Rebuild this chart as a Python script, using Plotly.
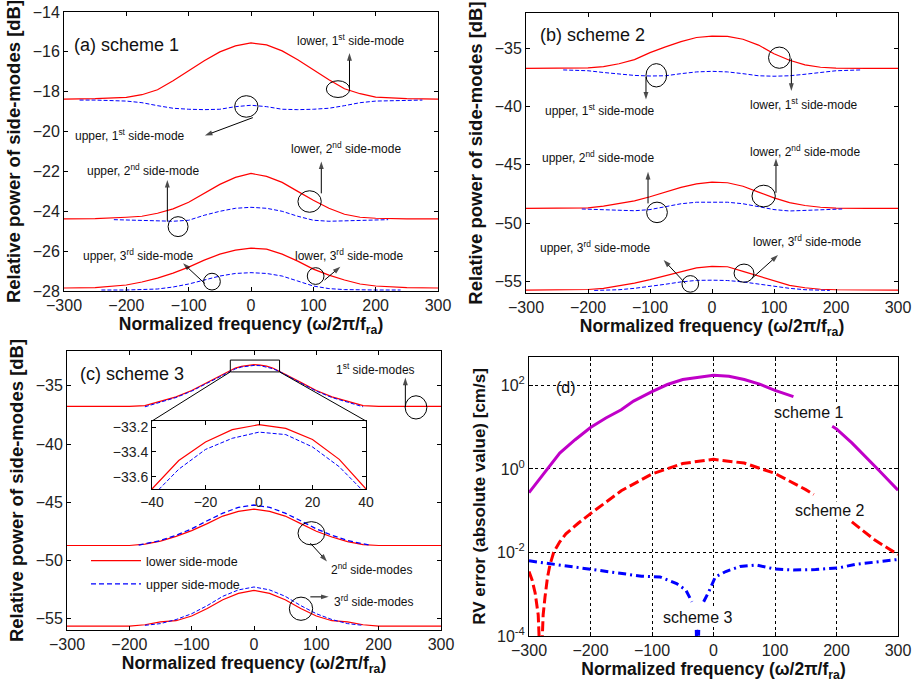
import plotly.graph_objects as go

# ---------------- data: panel (a) scheme 1 ----------------
X21 = [-300, -250, -200, -175, -150, -125, -100, -75, -50, -25, 0, 25, 50, 75, 100, 125, 150, 175, 200, 250, 300]
A_LOWER1 = [-18.37, -18.35, -18.28, -18.15, -17.9, -17.45, -16.95, -16.45, -16.0, -15.7, -15.55, -15.65, -15.95, -16.4, -16.9, -17.4, -17.85, -18.1, -18.27, -18.35, -18.37]
A_LOWER2 = [-24.38, -24.37, -24.3, -24.25, -24.1, -23.88, -23.55, -23.1, -22.65, -22.3, -22.1, -22.25, -22.55, -23.0, -23.45, -23.85, -24.15, -24.3, -24.35, -24.38, -24.38]
A_LOWER3 = [-27.85, -27.83, -27.7, -27.55, -27.35, -27.1, -26.8, -26.45, -26.15, -25.95, -25.85, -25.9, -26.15, -26.5, -26.9, -27.2, -27.45, -27.65, -27.75, -27.83, -27.85]
A_X_UP1 = [-275, -250, -200, -175, -150, -125, -100, -75, -50, -25, 0, 25, 50, 75, 100, 125, 150, 175, 200, 250, 275]
A_UPPER1 = [-18.42, -18.42, -18.47, -18.55, -18.7, -18.83, -18.88, -18.9, -18.88, -18.75, -18.68, -18.75, -18.88, -18.9, -18.88, -18.83, -18.7, -18.55, -18.47, -18.42, -18.42]
A_X_UP2 = [-220, -175, -150, -125, -100, -75, -50, -25, 0, 25, 50, 75, 100, 125, 150, 175, 220]
A_UPPER2 = [-24.42, -24.45, -24.47, -24.5, -24.45, -24.2, -24.0, -23.85, -23.8, -23.85, -24.0, -24.25, -24.45, -24.5, -24.48, -24.45, -24.42]
A_X_UP3 = [-240, -200, -150, -125, -100, -75, -50, -25, 0, 25, 50, 75, 100, 125, 150, 200, 240]
A_UPPER3 = [-27.95, -27.95, -27.9, -27.8, -27.65, -27.45, -27.25, -27.12, -27.08, -27.12, -27.25, -27.5, -27.75, -27.88, -27.93, -27.95, -27.95]

# ---------------- data: panel (b) scheme 2 ----------------
B_LOWER1 = [-36.75, -36.75, -36.7, -36.6, -36.35, -36.0, -35.4, -34.9, -34.45, -34.1, -33.98, -34.0, -34.25, -34.75, -35.5, -36.05, -36.45, -36.65, -36.72, -36.75, -36.75]
B_LOWER2 = [-48.75, -48.75, -48.7, -48.55, -48.35, -48.1, -47.75, -47.35, -46.95, -46.65, -46.5, -46.55, -46.85, -47.35, -47.85, -48.25, -48.5, -48.65, -48.72, -48.75, -48.75]
B_LOWER3 = [-55.75, -55.75, -55.7, -55.6, -55.4, -55.15, -54.85, -54.5, -54.15, -53.85, -53.72, -53.75, -54.15, -54.55, -55.0, -55.35, -55.55, -55.68, -55.72, -55.75, -55.75]
B_X_UP1 = [-240, -200, -175, -150, -125, -100, -75, -50, -25, 0, 25, 50, 75, 100, 125, 150, 175, 200, 240]
B_UPPER1 = [-36.88, -36.95, -37.1, -37.25, -37.35, -37.4, -37.38, -37.2, -37.05, -37.0, -37.05, -37.2, -37.38, -37.42, -37.38, -37.25, -37.1, -36.95, -36.88]
B_X_UP2 = [-210, -175, -150, -125, -100, -75, -50, -25, 0, 25, 50, 75, 100, 125, 150, 175, 210]
B_UPPER2 = [-48.8, -48.85, -48.9, -48.95, -48.85, -48.6, -48.35, -48.22, -48.2, -48.22, -48.35, -48.6, -48.85, -48.97, -48.92, -48.85, -48.8]
B_X_UP3 = [-190, -150, -125, -100, -75, -50, -25, 0, 25, 50, 75, 100, 125, 150, 190]
B_UPPER3 = [-55.78, -55.72, -55.6, -55.45, -55.25, -55.05, -54.92, -54.9, -54.93, -55.05, -55.25, -55.45, -55.6, -55.72, -55.78]

# ---------------- data: panel (c) scheme 3 ----------------
C_X_RED1 = [-300, -200, -175, -150, -125, -100, -75, -50, -40, -30, -20, -10, 0, 10, 20, 30, 40, 50, 75, 100, 125, 150, 175, 200, 300]
C_LOWER1 = [-36.77, -36.77, -36.7, -36.35, -35.95, -35.4, -34.7, -34.0, -33.7, -33.47, -33.32, -33.22, -33.18, -33.21, -33.3, -33.46, -33.7, -34.0, -34.7, -35.4, -35.95, -36.35, -36.7, -36.77, -36.77]
C_X_UP1 = [-175, -150, -125, -100, -75, -50, -40, -30, -20, -10, 0, 10, 20, 30, 40, 50, 75, 100, 125, 150, 175]
C_UPPER1 = [-36.8, -36.4, -36.0, -35.45, -34.75, -34.05, -33.76, -33.54, -33.38, -33.29, -33.24, -33.26, -33.36, -33.52, -33.74, -34.05, -34.75, -35.45, -36.0, -36.4, -36.8]
C_LOWER2 = [-48.73, -48.73, -48.73, -48.62, -48.35, -47.95, -47.45, -46.85, -46.2, -45.8, -45.6, -45.8, -46.2, -46.85, -47.5, -48.0, -48.4, -48.65, -48.73, -48.73, -48.73]
C_X_UP2 = [-185, -150, -125, -100, -75, -50, -25, 0, 25, 50, 75, 100, 125, 150, 185]
C_UPPER2 = [-48.7, -48.3, -47.85, -47.3, -46.6, -45.95, -45.45, -45.25, -45.45, -45.95, -46.6, -47.3, -47.85, -48.3, -48.7]
C_LOWER3 = [-55.66, -55.66, -55.66, -55.55, -55.3, -55.2, -54.8, -54.15, -53.4, -52.85, -52.6, -52.85, -53.4, -54.15, -54.8, -55.2, -55.3, -55.55, -55.66, -55.66, -55.66]
C_X_UP3 = [-175, -150, -125, -100, -75, -50, -25, 0, 25, 50, 75, 100, 125, 150, 175]
C_UPPER3 = [-55.6, -55.45, -55.1, -54.6, -53.9, -53.1, -52.55, -52.3, -52.55, -53.1, -53.9, -54.6, -55.1, -55.45, -55.6]

# ---------------- data: panel (d) RV error (None = gap behind a label) ----------------
D_X_S1 = [-300, -270, -250, -225, -200, -175, -150, -130, -100, -75, -50, 0, 25, 50, 75, 100, 130, 160, 193, 200, 225, 250, 270, 300]
D_S1 = [0.27, 1.0, 2.4, 5.0, 9.8, 16.6, 26, 42, 71, 105, 138, 174, 166, 138, 107, 76, 54, None, 10.5, 9.1, 4.2, 1.8, 0.89, 0.31]
D_X_S2 = [-300, -295, -290, -285, -281, -277, -274, -270, -266, -260, -250, -240, -220, -200, -150, -100, -50, 0, 50, 100, 150, 163, 190, 225, 263, 300]
D_S2 = [3.5e-3, 2.2e-3, 1.07e-3, 3.2e-4, 1e-5, 3.2e-4, 8.5e-4, 2.5e-3, 5.0e-3, 1.0e-2, 1.8e-2, 2.8e-2, 5.0e-2, 8.5e-2, 0.30, 0.76, 1.35, 1.7, 1.38, 0.78, 0.32, 0.245, None, 5.4e-2, 1.95e-2, 8.9e-3]
D_X_S3 = [-300, -258, -200, -150, -117, -87, -60, -45, -35, -31, -28, -26, -24, -21, -16, -8, 3, 20, 43, 70, 100, 130, 166, 204, 231, 263, 300]
D_S3 = [6.3e-3, 5.2e-3, 3.9e-3, 3.2e-3, 2.7e-3, 2.6e-3, 1.8e-3, 1.26e-3, 6.6e-4, None, 1.4e-4, 1e-5, 1.4e-4, None, 6.6e-4, 1.12e-3, 2.6e-3, 3.5e-3, 4.6e-3, 5.0e-3, 4.0e-3, 3.8e-3, 3.9e-3, 4.3e-3, 5.2e-3, 6.0e-3, 6.8e-3]

Y_TICKS_A = [-28, -26, -24, -22, -20, -18, -16, -14]
Y_TICKS_BC = [-55, -50, -45, -40, -35]
X_TICKS = [-300, -200, -100, 0, 100, 200, 300]
D_TICKVALS = [1e-4, 1e-2, 1, 1e2]
D_TICKTEXT = ["10<sup>-4</sup>", "10<sup>-2</sup>", "10<sup>0</sup>", "10<sup>2</sup>"]
INSET_XT = [-40, -20, 0, 20, 40]
INSET_YT = [-33.6, -33.4, -33.2]
LEGEND_NAMES = ["lower side-mode", "upper side-mode"]

FONT = "Liberation Sans, Arial, sans-serif"
RED = "#ff0000"
BLUE = "#0000ff"
MAG = "#c000c8"
W, H = 912, 683

def dom(px0, px1, py0, py1):
    return [px0 / W, px1 / W], [1 - py1 / H, 1 - py0 / H]

AX = {
    1: dom(64, 438, 12, 291),
    2: dom(526, 898, 13, 293),
    3: dom(67, 441, 351, 630),
    4: dom(529, 898, 357, 636),
    5: dom(152, 366, 421, 489),
}

fig = go.Figure()

def sfx(i):
    return "" if i == 1 else str(i)

def add_line(i, x, y, color, width, dash, name=None, legend=False, group=None, rank=None):
    fig.add_trace(go.Scatter(
        x=x, y=y, mode="lines", xaxis="x" + sfx(i), yaxis="y" + sfx(i),
        line=dict(color=color, width=width, dash=dash),
        name=name, showlegend=legend, legendgroup=group, hoverinfo="skip",
        legendrank=rank if rank is not None else 1000, connectgaps=False))

RD = "solid"
BD = "4px,2px"
# panel (a)
add_line(1, X21, A_LOWER1, RED, 1.2, RD)
add_line(1, X21, A_LOWER2, RED, 1.2, RD)
add_line(1, X21, A_LOWER3, RED, 1.2, RD)
add_line(1, A_X_UP1, A_UPPER1, BLUE, 1, BD)
add_line(1, A_X_UP2, A_UPPER2, BLUE, 1, BD)
add_line(1, A_X_UP3, A_UPPER3, BLUE, 1, BD)
# panel (b)
add_line(2, X21, B_LOWER1, RED, 1.2, RD)
add_line(2, X21, B_LOWER2, RED, 1.2, RD)
add_line(2, X21, B_LOWER3, RED, 1.2, RD)
add_line(2, B_X_UP1, B_UPPER1, BLUE, 1, BD)
add_line(2, B_X_UP2, B_UPPER2, BLUE, 1, BD)
add_line(2, B_X_UP3, B_UPPER3, BLUE, 1, BD)
# panel (c)
add_line(3, C_X_RED1, C_LOWER1, RED, 1.2, RD, LEGEND_NAMES[0], True, "g1", 1)
add_line(3, X21, C_LOWER2, RED, 1.2, RD)
add_line(3, X21, C_LOWER3, RED, 1.2, RD)
add_line(3, C_X_UP1, C_UPPER1, BLUE, 1, BD)
add_line(3, C_X_UP2, C_UPPER2, BLUE, 1.3, "5px,3px", LEGEND_NAMES[1], True, "g2", 2)
add_line(3, C_X_UP3, C_UPPER3, BLUE, 1, BD)
# inset
add_line(5, C_X_RED1, C_LOWER1, RED, 1.2, RD)
add_line(5, C_X_UP1, C_UPPER1, BLUE, 1, BD)
# panel (d)
add_line(4, D_X_S1, D_S1, MAG, 3, "solid")
add_line(4, D_X_S2, D_S2, RED, 3, "10px,4px")
add_line(4, D_X_S3, D_S3, BLUE, 3, "8px,4px,2px,4px")

tickfont = dict(family=FONT, size=16, color="#222")
xtitlefont = dict(family=FONT, size=17.5, color="#111")

def xax(i, rng, tickvals, title, font=tickfont):
    d = AX[i][0]
    ax = dict(domain=d, range=rng, tickvals=tickvals, anchor="y" + sfx(i),
              showline=True, linecolor="black", linewidth=1, mirror="ticks",
              ticks="inside", ticklen=4, tickcolor="black", tickfont=font,
              showgrid=False, zeroline=False, automargin=False, fixedrange=True)
    if title:
        ax["title"] = dict(text=title, font=xtitlefont, standoff=4)
    return ax

def yax(i, rng, tickvals, title, font=tickfont, tsize=18.5, **kw):
    d = AX[i][1]
    ax = dict(domain=d, range=rng, tickvals=tickvals, anchor="x" + sfx(i),
              showline=True, linecolor="black", linewidth=1, mirror="ticks",
              ticks="inside", ticklen=4, tickcolor="black", tickfont=font,
              showgrid=False, zeroline=False, automargin=False, fixedrange=True)
    if title:
        ax["title"] = dict(text=title, font=dict(family=FONT, size=tsize, color="#111"), standoff=7)
    ax.update(kw)
    return ax

XT = "<b>Normalized frequency (ω/2π/f<sub>ra</sub>)</b>"
YT = "<b>Relative power of side-modes [dB]</b>"

layout = dict(
    width=W, height=H, margin=dict(l=0, r=0, t=0, b=0),
    paper_bgcolor="white", plot_bgcolor="white",
    font=dict(family=FONT, color="#111"),
    xaxis=xax(1, [-300, 300], X_TICKS, XT),
    yaxis=yax(1, [-28, -14], Y_TICKS_A, YT),
    xaxis2=xax(2, [-300, 300], X_TICKS, XT),
    yaxis2=yax(2, [-56, -32], Y_TICKS_BC, YT),
    xaxis3=xax(3, [-300, 300], X_TICKS, XT),
    yaxis3=yax(3, [-56, -32], Y_TICKS_BC, YT),
    xaxis4=xax(4, [-300, 300], X_TICKS, XT),
    yaxis4=yax(4, [-4, 2.68], D_TICKVALS, "<b>RV error (absolute value) [cm/s]</b>",
               tsize=17, type="log", ticktext=D_TICKTEXT),
    xaxis5=xax(5, [-40, 40], INSET_XT, None, dict(family=FONT, size=14, color="#222")),
    yaxis5=yax(5, [-33.7, -33.15], INSET_YT, None, dict(family=FONT, size=14, color="#222")),
    legend=dict(x=86 / W, y=1 - 546 / H, xanchor="left", yanchor="top",
                bgcolor="rgba(0,0,0,0)", font=dict(family=FONT, size=12.5, color="#111"),
                itemwidth=50, tracegroupgap=4, traceorder="grouped"),
    showlegend=True,
)
# dashed black grid for (d)
for k in ("xaxis4", "yaxis4"):
    layout[k].update(showgrid=True, gridcolor="black", gridwidth=1, griddash="3px,3px")
fig.update_layout(**layout)

shapes = []
annots = []

def ref(i):
    return "x" + sfx(i), "y" + sfx(i)

def circle(i, cx, cy, rx, ry):
    xr, yr = ref(i)
    shapes.append(dict(type="circle", xref=xr, yref=yr, x0=cx - rx, x1=cx + rx,
                       y0=cy - ry, y1=cy + ry, line=dict(color="black", width=1)))

def arrow(i, x0, y0, x1, y1):
    # arrow drawn as a two-point line with an arrow marker at its head
    fig.add_trace(go.Scatter(
        x=[x0, x1], y=[y0, y1], mode="lines+markers",
        xaxis="x" + sfx(i), yaxis="y" + sfx(i),
        line=dict(color="black", width=1),
        marker=dict(symbol="arrow", angleref="previous", size=[0, 8],
                    color="black", line=dict(width=0)),
        showlegend=False, hoverinfo="skip"))

def label(i, x, y, text, size=12, anchor="left", bg=None):
    xr, yr = ref(i)
    d = dict(xref=xr, yref=yr, x=x, y=y, text=text, showarrow=False,
             xanchor=anchor, yanchor="middle",
             font=dict(family=FONT, size=size, color="#111"))
    if bg:
        d["bgcolor"] = bg
        d["borderpad"] = 0
    annots.append(d)

# panel (a) annotations
label(1, -287, -15.64, "(a) scheme 1", 18)
label(1, 71, -15.39, "lower, 1<sup>st</sup> side-mode")
circle(1, 139.6, -17.87, 18.7, 0.42)
arrow(1, 158, -17.82, 158, -16.06)
circle(1, -7.5, -18.74, 18.7, 0.54)
arrow(1, 3, -19.3, -74, -20.2)
label(1, -285, -20.16, "upper, 1<sup>st</sup> side-mode")
label(1, 61, -20.83, "lower, 2<sup>nd</sup> side-mode")
circle(1, 94, -23.51, 18.7, 0.54)
arrow(1, 112.8, -23.1, 112.8, -21.5)
label(1, -267, -21.92, "upper, 2<sup>nd</sup> side-mode")
circle(1, -117, -24.77, 16, 0.5)
arrow(1, -134.2, -24.52, -134.2, -22.43)
label(1, -272, -26.19, "upper, 3<sup>rd</sup> side-mode")
circle(1, -62.6, -27.53, 13.4, 0.42)
arrow(1, -74.3, -27.62, -109, -26.61)
label(1, 68, -26.19, "lower, 3<sup>rd</sup> side-mode")
circle(1, 103.7, -27.25, 13.4, 0.42)
arrow(1, 118, -27.45, 143.3, -26.78)

# panel (b) annotations
label(2, -280, -33.92, "(b) scheme 2", 18)
circle(2, 108.6, -35.83, 17.4, 0.91)
arrow(2, 128, -35.91, 128, -38.68)
label(2, 58, -39.82, "lower, 1<sup>st</sup> side-mode")
circle(2, -89.8, -37.34, 16.7, 1.0)
arrow(2, -106.5, -37.48, -106.5, -39.42)
label(2, -273, -40.33, "upper, 1<sup>st</sup> side-mode")
label(2, -277, -44.33, "upper, 2<sup>nd</sup> side-mode")
circle(2, -88.7, -49.09, 16.7, 0.88)
arrow(2, -103.2, -48.32, -103.2, -45.61)
label(2, 58, -43.84, "lower, 2<sup>nd</sup> side-mode")
circle(2, 83.3, -47.69, 18.8, 0.93)
arrow(2, 103.2, -47.41, 103.2, -44.47)
label(2, -280, -52.08, "upper, 3<sup>rd</sup> side-mode")
circle(2, -35, -55.22, 13.4, 0.71)
arrow(2, -43, -55.17, -78, -53.17)
label(2, 63, -51.54, "lower, 3<sup>rd</sup> side-mode")
circle(2, 51.6, -54.3, 16, 0.78)
arrow(2, 64.5, -54.74, 106.5, -52.74)

# panel (c) annotations
label(3, -283, -34.0, "(c) scheme 3", 18)
label(3, 128, -33.58, "1<sup>st</sup> side-modes")
circle(3, 259.9, -36.85, 17.4, 1.0)
arrow(3, 242.8, -36.85, 242.8, -34.29)
circle(3, 92, -47.68, 21.4, 1.0)
arrow(3, 90.4, -48.53, 117.1, -50.1)
label(3, 120, -50.76, "2<sup>nd</sup> side-modes")
circle(3, 75.4, -54.17, 18.7, 1.0)
arrow(3, 90.4, -53.15, 119.8, -53.15)
label(3, 125, -53.5, "3<sup>rd</sup> side-modes")
# zoom rectangle and connectors to inset
shapes.append(dict(type="rect", xref="x3", yref="y3", x0=-38, x1=41, y0=-33.8, y1=-32.78,
                   line=dict(color="black", width=1)))

def c_data(px, py):
    (dx0, dx1), (dy0, dy1) = AX[3]
    fx = (px / W - dx0) / (dx1 - dx0)
    fy = ((1 - py / H) - dy0) / (dy1 - dy0)
    return -300 + 600 * fx, -56 + 24 * fy

ilx, ity = c_data(152, 421)
irx, _ = c_data(366, 421)
shapes.append(dict(type="line", xref="x3", yref="y3", x0=-38, y0=-33.8, x1=ilx, y1=ity,
                   line=dict(color="black", width=1)))
shapes.append(dict(type="line", xref="x3", yref="y3", x0=41, y0=-33.8, x1=irx, y1=ity,
                   line=dict(color="black", width=1)))

# panel (d) annotations (log axis => log10 y positions)
label(4, -259, 1.96, "(d)", 16)
label(4, 154.7, 1.36, "scheme 1", 16, "center", "white")
label(4, 187.8, -0.99, "scheme 2", 16, "center", "white")
label(4, -26, -3.55, "scheme 3", 16, "center", "white")

fig.update_layout(shapes=shapes, annotations=annots)
fig.write_html("out.html")
